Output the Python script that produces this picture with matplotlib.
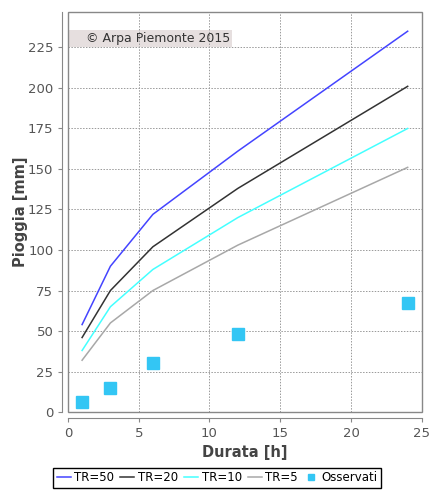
import matplotlib
matplotlib.use("Agg")
import matplotlib.pyplot as plt
from matplotlib.patches import Rectangle

# durations [h] and rainfall depths [mm]
durata = [1, 3, 6, 12, 24]
tr50 = [54, 90, 122, 161, 235]
tr20 = [46, 75, 102, 138, 201]
tr10 = [38, 65, 88, 120, 175]
tr5 = [32, 55, 75, 103, 151]
osservati = [6, 15, 30, 48, 67]

series = [
    ("TR=50", tr50, "#4444ff"),
    ("TR=20", tr20, "#333333"),
    ("TR=10", tr10, "#44ffff"),
    ("TR=5", tr5, "#a8a8a8"),
]

fig = plt.figure(figsize=(4.3, 4.9), dpi=100)
ax = fig.add_axes([0.158, 0.159, 0.823, 0.817])

for label, vals, col in series:
    ax.plot(durata, vals, color=col, lw=1.1, label=label)
ax.plot(durata, osservati, ls="none", marker="s", ms=8, color="#33c6f4",
        label="Osservati")

ax.set_xlim(0, 25)
ax.set_ylim(0, 247)
ax.set_xticks(range(0, 26, 5))
ax.set_yticks(range(0, 226, 25))
ax.grid(True, color="#999999", ls=(0, (1.5, 1.5)), lw=0.7)

# plot box + offset axis lines (JFreeChart look)
for s in ["top", "right"]:
    ax.spines[s].set_visible(False)
for s in ["left", "bottom"]:
    ax.spines[s].set_position(("outward", 4))
    ax.spines[s].set_color("#888888")
ax.add_patch(Rectangle((0, 0), 1, 1, transform=ax.transAxes, fill=False,
                       edgecolor="#888888", lw=1, clip_on=False, zorder=5))
ax.tick_params(colors="#888888", labelcolor="#555555", labelsize=9.5, length=3)

ax.set_xlabel("Durata [h]", fontsize=10.5, fontweight="bold", color="#444444")
ax.set_ylabel("Pioggia [mm]", fontsize=10.5, fontweight="bold", color="#444444",
              labelpad=0)

ax.add_patch(Rectangle((0.0, 225), 11.6, 10.5, fc="#e6dfdf", ec="none", zorder=1))
ax.text(1.3, 230.2, "\u00a9 Arpa Piemonte 2015", fontsize=9, color="#333333",
        va="center", ha="left", zorder=2)

fig.legend(loc="lower center", bbox_to_anchor=(0.505, -0.008), ncol=5,
           fontsize=8.5, frameon=True, fancybox=False, edgecolor="black",
           framealpha=1, handlelength=1.2, handletextpad=0.3,
           columnspacing=0.5, borderpad=0.3, markerscale=0.6)

fig.savefig("out.png", dpi=100)
